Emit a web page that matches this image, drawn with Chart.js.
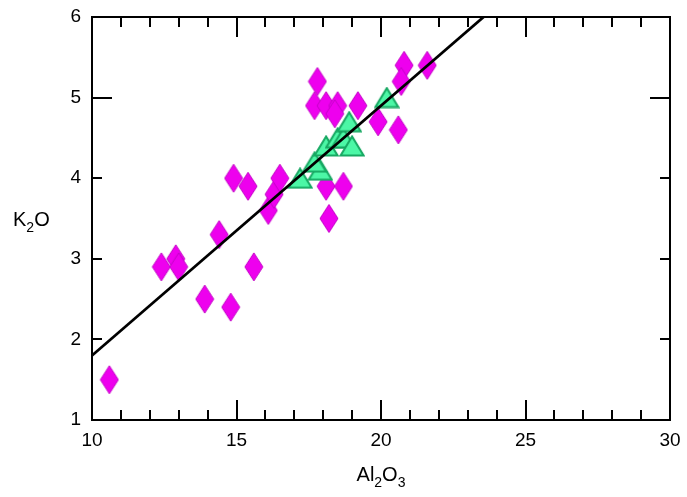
<!DOCTYPE html>
<html>
<head>
<meta charset="utf-8">
<script src="https://cdn.jsdelivr.net/npm/chart.js@4.4.0/dist/chart.umd.min.js"></script>
<style>
  html, body { margin: 0; padding: 0; background: #fff; }
</style>
</head>
<body>
<canvas id="chart" width="687" height="497"></canvas>
<script>
// magenta diamonds
const diamondAl2O3 = [10.6, 12.4, 12.9, 13.0, 13.9, 14.4, 14.8, 14.9, 15.4, 15.6, 16.1, 16.3, 16.5,
  17.8, 17.7, 18.1, 18.5, 18.4, 19.2, 18.1, 18.7, 18.2, 19.9, 20.6, 20.8, 20.7, 21.6];
const diamondK2O = [1.5, 2.9, 3.0, 2.9, 2.5, 3.3, 2.4, 4.0, 3.9, 2.9, 3.6, 3.8, 4.0,
  5.2, 4.9, 4.9, 4.9, 4.8, 4.9, 3.9, 3.9, 3.5, 4.7, 4.6, 5.4, 5.2, 5.4];

// green triangles
const triangleAl2O3 = [17.2, 17.9, 17.7, 18.1, 18.5, 18.7, 19.0, 18.9, 20.2];
const triangleK2O = [4.0, 4.1, 4.2, 4.4, 4.5, 4.5, 4.4, 4.7, 5.0];

// fitted line, two end points
const fitAl2O3 = [10, 23.55];
const fitK2O = [1.8, 6];

const xMin = 10, xMax = 30, xStep = 5;
const yMin = 1, yMax = 6, yStep = 1;

const toPoints = (xs, ys) => xs.map((x, i) => ({ x: x, y: ys[i] }));

// point images (taller-than-wide diamond, outlined triangle)
function makeDiamond() {
  const c = document.createElement('canvas');
  c.width = 20; c.height = 30;
  const g = c.getContext('2d');
  g.beginPath();
  g.moveTo(10, 1); g.lineTo(19, 15); g.lineTo(10, 29); g.lineTo(1, 15);
  g.closePath();
  g.fillStyle = '#ee00ee';
  g.fill();
  g.strokeStyle = '#c200c6';
  g.lineWidth = 1;
  g.stroke();
  return c;
}

function makeTriangle() {
  const c = document.createElement('canvas');
  c.width = 26; c.height = 22;
  const g = c.getContext('2d');
  g.beginPath();
  g.moveTo(13, 1.5); g.lineTo(24.5, 20.5); g.lineTo(1.5, 20.5);
  g.closePath();
  g.fillStyle = '#4cf7a6';
  g.fill();
  g.strokeStyle = '#17a862';
  g.lineWidth = 2;
  g.stroke();
  return c;
}

const FONT = '"Liberation Sans", Arial, sans-serif';

function drawSubText(ctx, parts, x, y, align) {
  const big = '20px ' + FONT, small = '14px ' + FONT;
  let w = 0;
  parts.forEach(p => { ctx.font = p[1] ? small : big; w += ctx.measureText(p[0]).width; });
  let cx = align === 'center' ? x - w / 2 : x;
  ctx.textAlign = 'left';
  ctx.textBaseline = 'alphabetic';
  parts.forEach(p => {
    ctx.font = p[1] ? small : big;
    ctx.fillText(p[0], cx, p[1] ? y + 6 : y);
    cx += ctx.measureText(p[0]).width;
  });
}

// frame, inward ticks and axis titles
const framePlugin = {
  id: 'frame',
  afterDatasetsDraw(chart) {
    const ctx = chart.ctx;
    const a = chart.chartArea;
    const xs = chart.scales.x, ys = chart.scales.y;
    ctx.save();
    ctx.strokeStyle = '#000';
    ctx.lineWidth = 2;
    ctx.beginPath();
    for (let v = xMin + 1; v < xMax; v++) {
      const px = Math.round(xs.getPixelForValue(v));
      const len = v % 5 === 0 ? 20 : 10;
      ctx.moveTo(px, a.bottom); ctx.lineTo(px, a.bottom - len);
      ctx.moveTo(px, a.top); ctx.lineTo(px, a.top + len);
    }
    for (let v = yMin + 1; v < yMax; v++) {
      const py = Math.round(ys.getPixelForValue(v));
      const len = v === 5 ? 20 : 10;
      ctx.moveTo(a.left, py); ctx.lineTo(a.left + len, py);
      ctx.moveTo(a.right, py); ctx.lineTo(a.right - len, py);
    }
    ctx.stroke();
    ctx.strokeRect(a.left, a.top, a.right - a.left, a.bottom - a.top);

    ctx.fillStyle = '#000';
    drawSubText(ctx, [['Al', false], ['2', true], ['O', false], ['3', true]], (a.left + a.right) / 2, 481, 'center');
    drawSubText(ctx, [['K', false], ['2', true], ['O', false]], 13, 226, 'left');
    ctx.restore();
  }
};

// keep the plot box fixed: no extra room for overhanging end labels
function fixPadding(s) {
  s.paddingTop = 0; s.paddingBottom = 0;
  s.paddingLeft = 0; s.paddingRight = 0;
}

new Chart(document.getElementById('chart'), {
  type: 'scatter',
  data: {
    datasets: [
      {
        label: 'fit',
        data: toPoints(fitAl2O3, fitK2O),
        showLine: true,
        borderColor: '#000',
        borderWidth: 2.8,
        pointRadius: 0,
        order: 0
      },
      {
        label: 'triangles',
        data: toPoints(triangleAl2O3, triangleK2O),
        pointStyle: makeTriangle(),
        order: 1
      },
      {
        label: 'diamonds',
        data: toPoints(diamondAl2O3, diamondK2O),
        pointStyle: makeDiamond(),
        order: 2
      }
    ]
  },
  options: {
    responsive: false,
    animation: false,
    layout: { padding: { left: 0, top: 17, right: 17, bottom: 0 } },
    plugins: {
      legend: { display: false },
      tooltip: { enabled: false }
    },
    scales: {
      x: {
        type: 'linear',
        min: xMin, max: xMax,
        grid: { display: false, drawTicks: false },
        border: { display: false },
        ticks: { stepSize: xStep, color: '#000', padding: 9, font: { family: FONT, size: 19 } },
        afterFit: s => { s.height = 77; fixPadding(s); }
      },
      y: {
        type: 'linear',
        min: yMin, max: yMax,
        grid: { display: false, drawTicks: false },
        border: { display: false },
        ticks: { stepSize: yStep, color: '#000', padding: 11, font: { family: FONT, size: 19 } },
        afterFit: s => { s.width = 92; fixPadding(s); }
      }
    }
  },
  plugins: [framePlugin]
});
</script>
</body>
</html>
